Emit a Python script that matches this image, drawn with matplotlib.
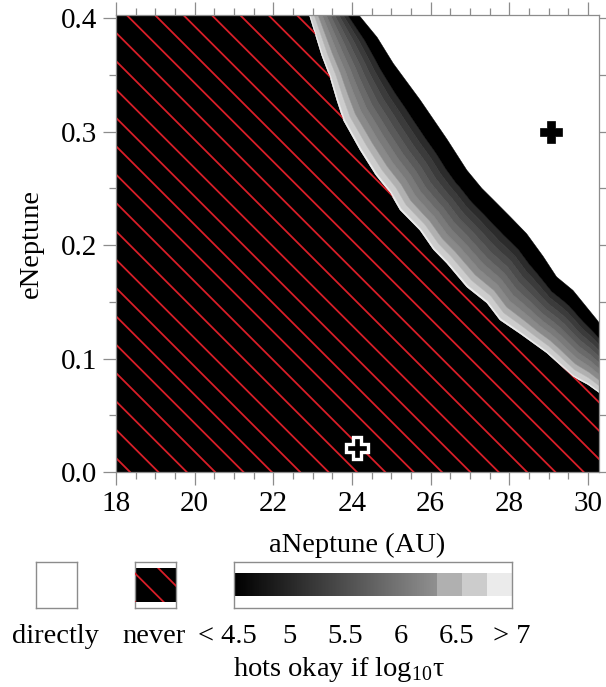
import numpy as np
import matplotlib
matplotlib.use("Agg")
import matplotlib.pyplot as plt
from matplotlib.colors import LinearSegmentedColormap
from matplotlib.patches import Polygon, Rectangle
from matplotlib.ticker import MultipleLocator, FormatStrFormatter

plt.rcParams["font.family"] = ["Liberation Serif", "DejaVu Serif"]
plt.rcParams["mathtext.fontset"] = "custom"
plt.rcParams["mathtext.rm"] = "Liberation Serif"

# edge of the "never" region (inner edge of the grey band)
a_never = [22.85, 23.23, 23.44, 23.61, 23.78, 24.20, 24.60, 24.97, 25.22, 25.73,
           26.07, 26.41, 26.92, 27.43, 27.76, 28.27, 28.95, 29.62, 30.00, 30.40]
e_never = [0.410, 0.367, 0.348, 0.328, 0.310, 0.284, 0.262, 0.246, 0.231, 0.213,
           0.196, 0.184, 0.163, 0.149, 0.134, 0.122, 0.105, 0.084, 0.077, 0.067]

# edge of the "directly" region (outer edge of the grey band)
a_direct = [24.00, 24.64, 25.05, 25.73, 26.42, 26.92, 27.30, 27.59, 28.02, 28.44,
            28.86, 29.20, 29.62, 30.23, 30.40]
e_direct = [0.410, 0.383, 0.360, 0.328, 0.293, 0.266, 0.250, 0.240, 0.225, 0.210,
            0.190, 0.172, 0.160, 0.134, 0.126]

# log10(tau) contours across the band, 0 = never edge, 1 = directly edge
tau_levels = [7.0, 6.55, 6.33, 6.15, 5.95, 5.75, 5.55, 5.35, 5.15, 4.95]
tau_frac = [0.025, 0.10, 0.18, 0.265, 0.35, 0.435, 0.52, 0.605, 0.69, 0.78]

# colour bar: smooth ramp up to 6.33, then flat steps
cbar_breaks = [4.5, 6.33, 6.55, 6.78, 7.0]
cbar_greys = ["#000000", "#909090", "#b0b0b0", "#cccccc", "#ebebeb"]
cbar_ticks = [4.5, 5, 5.5, 6, 6.5, 7]
cbar_labels = ["< 4.5", "5", "5.5", "6", "6.5", "> 7"]

# markers
a_now, e_now = [29.05], [0.300]
a_start, e_start = [24.12], [0.021]

XMIN, XMAX = 18.0, 30.28
YMIN, YMAX = 0.0, 0.4027
W, H = 606, 687
RED = "#d81e28"
FS = 20.5


def make_cmap():
    lo, hi = cbar_breaks[0], cbar_breaks[-1]
    pos = lambda v: (v - lo) / (hi - lo)
    stops = [(0.0, cbar_greys[0]), (pos(cbar_breaks[1]), cbar_greys[1])]
    for i in range(1, len(cbar_breaks) - 1):
        stops.append((pos(cbar_breaks[i]), cbar_greys[i + 1]))
        stops.append((pos(cbar_breaks[i + 1]), cbar_greys[i + 1]))
    return LinearSegmentedColormap.from_list("tau", stops, N=512)


def resample(a, e, n=300):
    a = np.asarray(a)
    e = np.asarray(e)
    d = np.r_[0, np.cumsum(np.hypot(np.diff(a) / 12.0, np.diff(e) / 0.4))]
    t = np.linspace(0, d[-1], n)
    return np.interp(t, d, a), np.interp(t, d, e)


def hatch(ax, clip, ratio, start, step):
    # red lines falling at 45 degrees on screen, in axes coords
    for x0 in np.arange(start - 10 * step, 1 + 1 / ratio + step, step):
        ln, = ax.plot([x0 - 3, x0], [3 * ratio, 0], color=RED, lw=1.3,
                      transform=ax.transAxes, zorder=3)
        ln.set_clip_path(clip)


fig = plt.figure(figsize=(W / 100, H / 100), dpi=100)
ax = fig.add_axes([116 / W, 1 - 472 / H, 483 / W, 457 / H])
ax.set_xlim(XMIN, XMAX)
ax.set_ylim(YMIN, YMAX)
cmap = make_cmap()
norm = plt.Normalize(cbar_breaks[0], cbar_breaks[-1])

# never region
never_xy = [(XMIN - 1, 0.41)] + list(zip(a_never, e_never)) + [(30.4, -0.01), (XMIN - 1, -0.01)]
never_patch = Polygon(never_xy, closed=True, facecolor="black", edgecolor="none", zorder=1)
ax.add_patch(never_patch)
hatch(ax, never_patch, 483 / 457, 0.029, 0.0587)

# grey band
ain, ein = resample(a_never, e_never)
aout, eout = resample(a_direct, e_direct)
fracs = [0.0] + tau_frac + [1.0]
vals = [7.2] + [(tau_levels[i] + tau_levels[i + 1]) / 2 for i in range(len(tau_levels) - 1)] + [4.3]
for k in range(len(fracs) - 1):
    f0, f1 = fracs[k], fracs[k + 1]
    a0 = (1 - f0) * ain + f0 * aout
    e0 = (1 - f0) * ein + f0 * eout
    a1 = (1 - f1) * ain + f1 * aout
    e1 = (1 - f1) * ein + f1 * eout
    xy = np.column_stack([np.r_[a0, a1[::-1]], np.r_[e0, e1[::-1]]])
    c = cmap(norm(vals[k]))
    ax.add_patch(Polygon(xy, closed=True, facecolor=c, edgecolor=c, lw=0.3, zorder=2))

ax.plot(a_now, e_now, marker="P", ms=16, color="black", mec="black", mew=0.5,
        ls="none", zorder=5)
ax.plot(a_start, e_start, marker="P", ms=16.5, mfc="black", mec="white", mew=2.4,
        ls="none", zorder=5)

ax.xaxis.set_major_locator(MultipleLocator(2))
ax.xaxis.set_minor_locator(MultipleLocator(0.5))
ax.yaxis.set_major_locator(MultipleLocator(0.1))
ax.yaxis.set_minor_locator(MultipleLocator(0.05))
ax.yaxis.set_major_formatter(FormatStrFormatter("%.1f"))
ax.tick_params(which="both", direction="out", top=True, right=True,
               color="#8c8c8c", labelsize=21, labelcolor="black", width=0.9)
ax.tick_params(which="major", length=9.5, pad=4)
ax.tick_params(which="minor", length=4.8)
for s in ax.spines.values():
    s.set_color("#8c8c8c")
    s.set_linewidth(0.9)
    s.set_zorder(6)
ax.set_xlabel("aNeptune (AU)", fontsize=FS)
ax.set_ylabel("eNeptune", fontsize=FS)
ax.xaxis.set_label_coords(0.5, -0.134)
ax.yaxis.set_label_coords(-0.149, 0.5)


def box_axes(x0, x1, y0=562, y1=608):
    bx = fig.add_axes([x0 / W, 1 - y1 / H, (x1 - x0) / W, (y1 - y0) / H])
    bx.set_xticks([])
    bx.set_yticks([])
    for s in bx.spines.values():
        s.set_color("#8c8c8c")
        s.set_linewidth(1.0)
    return bx


# legend: directly
box_axes(36, 77)

# legend: never
nx = box_axes(135, 176)
nx.set_xlim(0, 1)
nx.set_ylim(0, 1)
rect = Rectangle((0, 0.13), 1, 0.74, facecolor="black", edgecolor="none")
nx.add_patch(rect)
hatch(nx, rect, 41 / 46, 0.15, 28.5 / 41)

# legend: colour bar
cx = box_axes(234, 512)
ramp = np.linspace(cbar_breaks[0], cbar_breaks[-1], 600).reshape(1, -1)
cx.imshow(ramp, cmap=cmap, norm=norm, aspect="auto",
          extent=(cbar_breaks[0], cbar_breaks[-1], 0.26, 0.74), interpolation="nearest")
cx.set_xlim(cbar_breaks[0], cbar_breaks[-1])
cx.set_ylim(0, 1)

lab_y = 1 - 643 / H
fig.text(55 / W, lab_y, "directly", ha="center", va="baseline", fontsize=FS)
fig.text(154 / W, lab_y, "never", ha="center", va="baseline", fontsize=FS)
for v, s in zip(cbar_ticks, cbar_labels):
    xf = (234 + (v - cbar_breaks[0]) / (cbar_breaks[-1] - cbar_breaks[0]) * 278) / W
    if s.startswith("<"):
        xf -= 7 / W
    fig.text(xf, lab_y, s, ha="center", va="baseline", fontsize=FS)
fig.text(339 / W, 1 - 676 / H, r"hots okay if log$_{\mathrm{10}}$τ",
         ha="center", va="baseline", fontsize=FS)

fig.savefig("out.png", dpi=100)
